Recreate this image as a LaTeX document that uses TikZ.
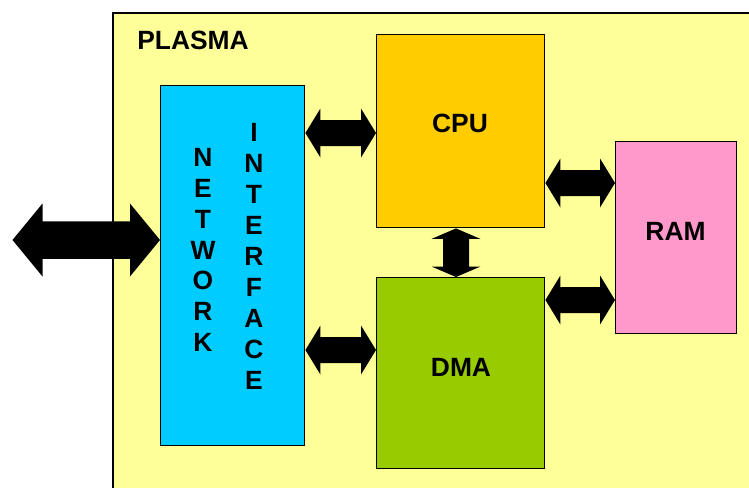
\documentclass[tikz,border=0pt]{standalone}
\usepackage{fontspec}
\setmainfont{Liberation Sans}
\definecolor{bgyellow}{HTML}{FFFF99}
\definecolor{nicyan}{HTML}{00CCFF}
\definecolor{cpuorange}{HTML}{FFCC00}
\definecolor{dmagreen}{HTML}{99CC00}
\definecolor{rampink}{HTML}{FF99CC}
\newcommand\hdblarrow[5]{%
  \fill let \p1=(#1), \p2=(#2) in
    (\x1,\y1) -- (\x1+#5,\y1+#3) -- (\x1+#5,\y1+#4) -- (\x2-#5,\y1+#4) -- (\x2-#5,\y1+#3)
    -- (\x2,\y1) -- (\x2-#5,\y1-#3) -- (\x2-#5,\y1-#4) -- (\x1+#5,\y1-#4) -- (\x1+#5,\y1-#3) -- cycle;}
\newcommand\vdblarrow[5]{%
  \fill let \p1=(#1), \p2=(#2) in
    (\x1,\y1) -- (\x1+#3,\y1-#5) -- (\x1+#4,\y1-#5) -- (\x1+#4,\y2+#5) -- (\x1+#3,\y2+#5)
    -- (\x1,\y2) -- (\x1-#3,\y2+#5) -- (\x1-#4,\y2+#5) -- (\x1-#4,\y1-#5) -- (\x1-#3,\y1-#5) -- cycle;}
\usetikzlibrary{calc}
\begin{document}
\begin{tikzpicture}[x=1pt,y=-1pt,
  block/.style={draw=black,line width=1.4pt,inner sep=0pt,anchor=north west},
  lbl/.style={font=\fontsize{26.4}{30.9}\selectfont\bfseries,inner sep=0pt,align=center}]
\useasboundingbox (0,0) rectangle (749,487);
\begin{scope}
\clip (0,0) rectangle (749,487);
\path[fill=bgyellow,draw=black,line width=1.4pt] (113,13) rectangle (770,510);
\end{scope}
\node[lbl] (plasmalbl) at (193,40) {PLASMA};
% blocks
\node[block,fill=nicyan,minimum width=144pt,minimum height=360pt] (ni) at (160,85) {};
\node[block,fill=cpuorange,minimum width=168pt,minimum height=193pt] (cpu) at (376,34) {};
\node[block,fill=dmagreen,minimum width=168pt,minimum height=191pt] (dma) at (376,277) {};
\node[block,fill=rampink,minimum width=121pt,minimum height=192pt] (ram) at (615,141) {};
% labels
\node[lbl] (netlbl) at (203,250) {N\\E\\T\\W\\O\\R\\K};
\node[lbl] (intlbl) at (254,256.5) {I\\N\\T\\E\\R\\F\\A\\C\\E};
\node[lbl] (cpulbl) at (460,123) {CPU};
\node[lbl] (dmalbl) at (461,367) {DMA};
\node[lbl] (ramlbl) at (675.5,231) {RAM};
% level coordinates
\coordinate (ext) at (12.5,240);
\coordinate (y133) at (0,133);
\coordinate (y350) at (0,350);
\coordinate (y183) at (0,183);
\coordinate (y300) at (0,300);
\coordinate (x456) at (456,0);
% arrows
\hdblarrow{ext}{ni.west |- ext}{36.5pt}{18.75pt}{30pt}
\hdblarrow{ni.east |- y133}{cpu.west |- y133}{24.5pt}{13pt}{15pt}
\hdblarrow{ni.east |- y350}{dma.west |- y350}{24.5pt}{13pt}{15pt}
\hdblarrow{cpu.east |- y183}{ram.west |- y183}{24.5pt}{13pt}{15pt}
\hdblarrow{dma.east |- y300}{ram.west |- y300}{24.5pt}{13pt}{15pt}
\vdblarrow{x456 |- cpu.south}{x456 |- dma.north}{24.5pt}{13pt}{10.5pt}
\end{tikzpicture}
\end{document}
